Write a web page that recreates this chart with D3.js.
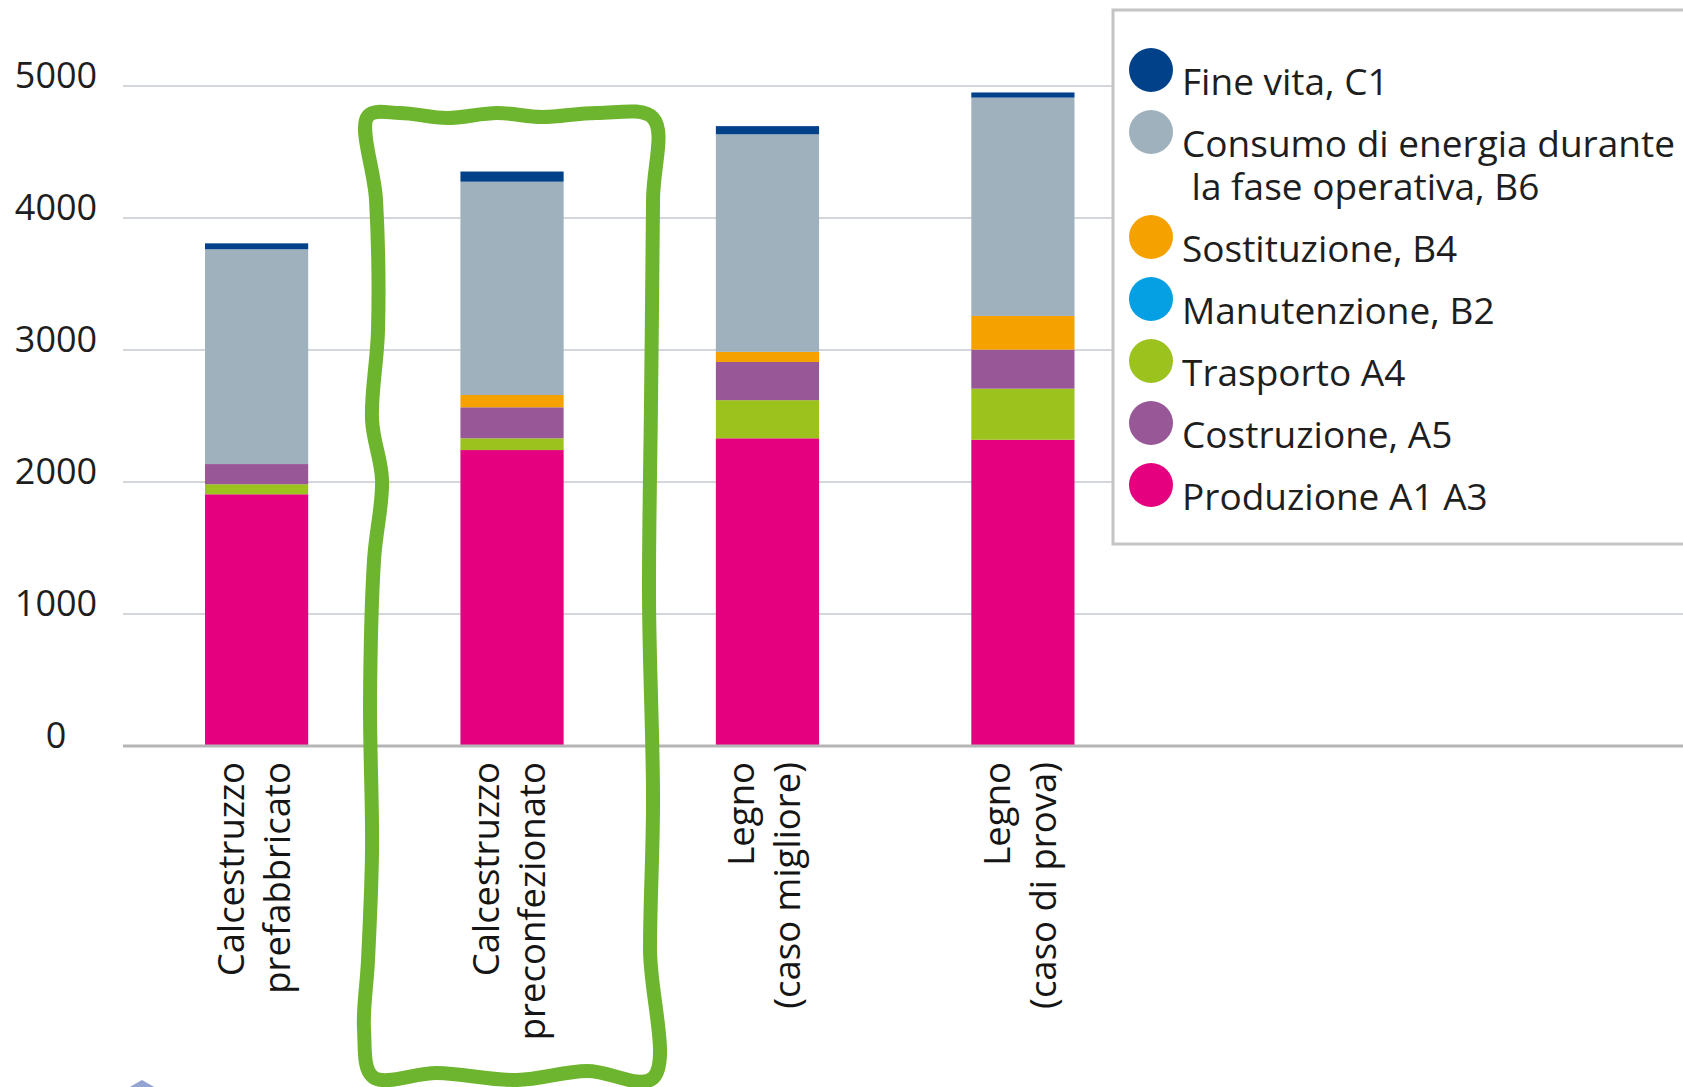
<!DOCTYPE html>
<html>
<head>
<meta charset="utf-8">
<script src="https://cdn.jsdelivr.net/npm/d3@7/dist/d3.min.js"></script>
<style>
  body { margin: 0; background: #fff; }
  text { font-family: "Open Sans", sans-serif; }
</style>
</head>
<body>
<script>
// categories (two lines each)
var categories = ["Calcestruzzo prefabbricato", "Calcestruzzo preconfezionato", "Legno (caso migliore)", "Legno (caso di prova)"];
var catLines = [["Calcestruzzo", "prefabbricato"], ["Calcestruzzo", "preconfezionato"], ["Legno", "(caso migliore)"], ["Legno", "(caso di prova)"]];

// series values, bottom to top
var produzione   = [1907, 2242, 2331, 2320];
var trasporto    = [76, 89, 289, 387];
var costruzione  = [153, 235, 289, 296];
var manutenzione = [0, 0, 0, 0];
var sostituzione = [0, 93, 77, 255];
var consumo      = [1627, 1616, 1648, 1654];
var fineVita     = [45, 77, 62, 39];

var yTicks = [0, 1000, 2000, 3000, 4000, 5000];

var series = [
  { key: "prod", name: ["Produzione A1 A3"], values: produzione, color: "#e4007e" },
  { key: "tras", name: ["Trasporto A4"], values: trasporto, color: "#9cc21e" },
  { key: "cost", name: ["Costruzione, A5"], values: costruzione, color: "#985898" },
  { key: "manu", name: ["Manutenzione, B2"], values: manutenzione, color: "#05a0e3" },
  { key: "sost", name: ["Sostituzione, B4"], values: sostituzione, color: "#f5a200" },
  { key: "cons", name: ["Consumo di energia durante", " la fase operativa, B6"], values: consumo, color: "#9eb1bd" },
  { key: "fine", name: ["Fine vita, C1"], values: fineVita, color: "#00418a" }
];
// legend order as printed, top to bottom
var legendOrder = ["fine", "cons", "sost", "manu", "tras", "cost", "prod"];

var width = 1683, height = 1087;

var svg = d3.select("body").append("svg")
  .attr("width", width)
  .attr("height", height);

var y = d3.scaleLinear().domain([0, 5000]).range([746, 86]);
var x = d3.scaleBand().domain(categories).range([205, 1074.5])
  .paddingInner(0.596).paddingOuter(0);

// table for the stack
var table = categories.map(function (c, i) {
  var row = { cat: c };
  series.forEach(function (s) { row[s.key] = s.values[i]; });
  return row;
});
var stacked = d3.stack().keys(series.map(function (s) { return s.key; }))(table);

// gridlines
svg.append("g").selectAll("line")
  .data(yTicks.filter(function (d) { return d > 0; }))
  .enter().append("line")
  .attr("x1", 123).attr("x2", width)
  .attr("y1", function (d) { return y(d); })
  .attr("y2", function (d) { return y(d); })
  .attr("stroke", "#d3d7db")
  .attr("stroke-width", 2);

// y labels sit on the gridlines
svg.append("g").selectAll("text")
  .data(yTicks)
  .enter().append("text")
  .attr("x", 56)
  .attr("y", function (d) { return y(d) + 2; })
  .attr("text-anchor", "middle")
  .attr("font-size", 36)
  .attr("fill", "#1e1e1e")
  .text(function (d) { return d; });

// bars
svg.append("g").selectAll("g")
  .data(stacked)
  .enter().append("g")
  .attr("fill", function (d, i) { return series[i].color; })
  .selectAll("rect")
  .data(function (d) { return d; })
  .enter().append("rect")
  .attr("x", function (d) { return x(d.data.cat); })
  .attr("width", x.bandwidth())
  .attr("y", function (d) { return y(d[1]); })
  .attr("height", function (d) { return y(d[0]) - y(d[1]); });

// zero line
svg.append("line")
  .attr("x1", 123).attr("x2", width)
  .attr("y1", y(0)).attr("y2", y(0))
  .attr("stroke", "#b5b5b5")
  .attr("stroke-width", 3);

// category labels, rotated
var labels = svg.append("g").selectAll("text")
  .data(categories)
  .enter().append("text")
  .attr("transform", function (d) {
    var cx = x(d) + x.bandwidth() / 2;
    return "translate(" + cx + "," + (y(0) + 16) + ") rotate(-90)";
  })
  .attr("text-anchor", "end")
  .attr("font-size", 36.5)
  .attr("fill", "#151515");
labels.selectAll("tspan")
  .data(function (d, i) { return catLines[i]; })
  .enter().append("tspan")
  .attr("x", 0)
  .attr("y", function (d, j) { return j === 0 ? -13 : 33; })
  .text(function (d) { return d; });

// legend
var legend = svg.append("g");
legend.append("rect")
  .attr("x", 1113).attr("y", 10)
  .attr("width", 620).attr("height", 534)
  .attr("fill", "#fff")
  .attr("stroke", "#c4c4c4")
  .attr("stroke-width", 3);

var cy = 70;
legendOrder.forEach(function (k) {
  var s = series.find(function (d) { return d.key === k; });
  legend.append("circle")
    .attr("cx", 1151).attr("cy", cy).attr("r", 22)
    .attr("fill", s.color);
  var t = legend.append("text")
    .attr("x", 1182).attr("y", cy + 25)
    .attr("font-size", 37)
    .attr("fill", "#1e1e1e");
  s.name.forEach(function (line, j) {
    t.append("tspan")
      .attr("x", 1182)
      .attr("dy", j === 0 ? 0 : 43)
      .style("white-space", "pre")
      .text(line);
  });
  cy += 62 + (s.name.length - 1) * 43;
});

// hand drawn highlight round the second bar
var hx = x(categories[1]) + x.bandwidth() / 2;
var box = [
  [-144, 116], [-136, 200], [-134, 330], [-140, 420], [-130, 480], [-138, 560],
  [-142, 700], [-140, 850], [-144, 960], [-148, 1030], [-139, 1077],
  [-75, 1073], [5, 1080], [75, 1071], [141, 1078],
  [138, 950], [141, 800], [137, 600], [139, 400], [141, 200], [141, 118],
  [85, 113], [30, 117], [-15, 113], [-65, 118], [-112, 113]
];
svg.append("path")
  .attr("d", d3.line()
    .x(function (d) { return hx + d[0]; })
    .y(function (d) { return d[1]; })
    .curve(d3.curveCatmullRomClosed)(box))
  .attr("fill", "none")
  .attr("stroke", "#6db52e")
  .attr("stroke-width", 14)
  .attr("stroke-linejoin", "round");

// small cut off marker at the bottom left
svg.append("path")
  .attr("d", "M128,1088 L142,1080 L156,1088 Z")
  .attr("fill", "#93a4d2");
</script>
</body>
</html>
